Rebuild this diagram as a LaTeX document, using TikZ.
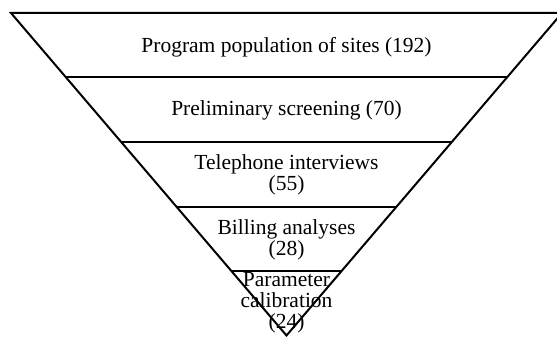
\documentclass[tikz,border=0pt]{standalone}
\usepackage{fontspec}
\setmainfont{Liberation Serif}
\usetikzlibrary{calc}

\begin{document}
\begin{tikzpicture}[x=1pt, y=-1pt, line width=2pt,
  stage/.style = { font=\fontsize{21.5}{21}\selectfont, align=center,
                   inner sep=0pt, anchor=base }]
  \useasboundingbox (0,0) rectangle (557,337);
  \coordinate (tl) at (11,13);
  \coordinate (tr) at (562,13);
  \coordinate (apex) at (286.5,335.5);
  \draw (tl) -- (tr) -- (apex) -- cycle;
  \foreach \f in {0.2,0.4,0.6,0.8} {
    \draw ($(tl)!\f!(apex)$) -- ($(tr)!\f!(apex)$);
  }
  \node [stage] (s1) at (286.5,53)  {Program population of sites (192)};
  \node [stage] (s2) at (286.5,115) {Preliminary screening (70)};
  \node [stage] (s3) at (286.5,190) {Telephone interviews\\(55)};
  \node [stage] (s4) at (286.5,255) {Billing analyses\\(28)};
  \node [stage] (s5) at (286.5,328) {Parameter\\calibration\\(24)};
\end{tikzpicture}
\end{document}
